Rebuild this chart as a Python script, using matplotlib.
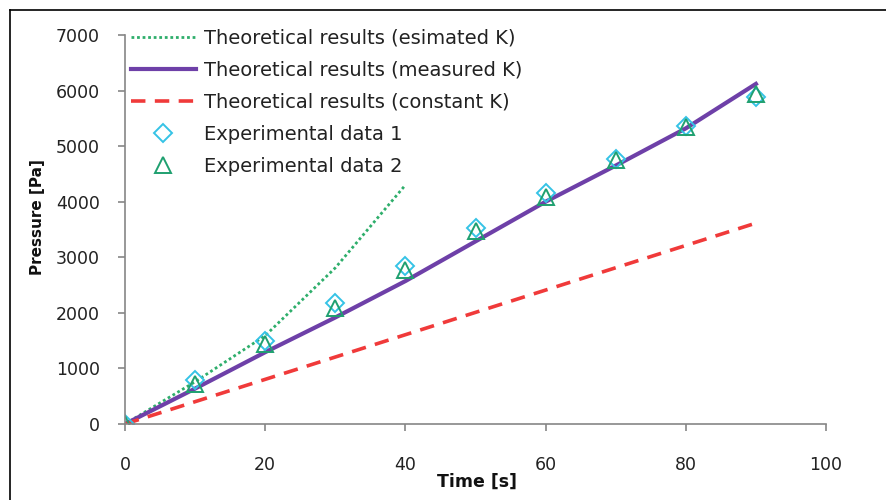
import matplotlib
matplotlib.use('Agg')
import matplotlib.pyplot as plt
from matplotlib.lines import Line2D

plt.rcParams['font.family'] = ['DejaVu Sans']

# Time points [s]
time_est = [0, 10, 20, 30, 40]
time_full = [0, 10, 20, 30, 40, 50, 60, 70, 80, 90]
time_const = [0, 90]

# Pressure values [Pa]
p_estimated = [0, 760, 1590, 2810, 4300]
p_measured = [0, 637, 1292, 1917, 2572, 3286, 4000, 4650, 5320, 6120]
p_constant = [0, 3615]
p_exp1 = [0, 786, 1500, 2186, 2852, 3525, 4150, 4775, 5370, 5880]
p_exp2 = [0, 727, 1441, 2096, 2780, 3465, 4090, 4745, 5340, 5940]

labels = ['Theoretical results (esimated K)',
          'Theoretical results (measured K)',
          'Theoretical results (constant K)',
          'Experimental data 1',
          'Experimental data 2']

COLORS = {'est': '#2EAE6B', 'meas': '#6E40A8', 'const': '#F03A3A',
          'exp1': '#35C3E6', 'exp2': '#1FA070'}

FS = 12.5

fig = plt.figure(figsize=(8.87, 5.0), dpi=100)
ax = fig.add_axes([125 / 887, 1 - 424 / 500, 701 / 887, 389 / 500])

ax.plot(time_est, p_estimated, linestyle=(0, (1, 1.0)), color=COLORS['est'],
        linewidth=2.0, label=labels[0])
ax.plot(time_full, p_measured, color=COLORS['meas'], linewidth=3.0,
        label=labels[1])
ax.plot(time_const, p_constant, linestyle=(0, (4, 2.6)), color=COLORS['const'],
        linewidth=2.6, label=labels[2])
ax.plot(time_full, p_exp1, linestyle='none', marker='D', markersize=9,
        markerfacecolor='none', markeredgecolor=COLORS['exp1'],
        markeredgewidth=1.4, label=labels[3])
ax.plot(time_full, p_exp2, linestyle='none', marker='^', markersize=11,
        markerfacecolor='none', markeredgecolor=COLORS['exp2'],
        markeredgewidth=1.4, label=labels[4])

ax.set_xlim(0, 100)
ax.set_ylim(0, 7000)
ax.set_xticks(range(0, 101, 20))
ax.set_yticks(range(0, 7001, 1000))

for side in ['top', 'right']:
    ax.spines[side].set_visible(False)
for side in ['left', 'bottom']:
    ax.spines[side].set_color('#868686')
    ax.spines[side].set_linewidth(1.2)

ax.tick_params(axis='both', direction='out', length=5, width=1.2,
               color='#868686', labelsize=FS, labelcolor='#222222')
ax.tick_params(axis='x', pad=18)
ax.tick_params(axis='y', pad=13)

ax.set_xlabel('Time [s]', fontsize=FS, fontweight='bold', color='#111111')
ax.xaxis.set_label_coords((477 - 125) / 701, -(482 - 424) / 389)
ax.xaxis.label.set_verticalalignment('center')
ax.set_ylabel('Pressure [Pa]', fontsize=11, fontweight='bold', color='#111111')
ax.yaxis.set_label_coords(-(125 - 38) / 701, (424 - 217) / 389)
ax.yaxis.label.set_verticalalignment('center')

leg = ax.legend(loc='upper left', bbox_to_anchor=(0.008, 1.017), frameon=False,
                fontsize=14, handlelength=3.35, handletextpad=0.41,
                labelspacing=0.68, borderpad=0, borderaxespad=0)
for txt in leg.get_texts():
    txt.set_color('#222222')

# outer frame like the original screenshot
fig.add_artist(Line2D([10 / 887, 10 / 887], [0, 1 - 10 / 500],
                      color='black', linewidth=1.2))
fig.add_artist(Line2D([10 / 887, 1], [1 - 10 / 500, 1 - 10 / 500],
                      color='black', linewidth=1.2))

fig.savefig('out.png', dpi=100)
